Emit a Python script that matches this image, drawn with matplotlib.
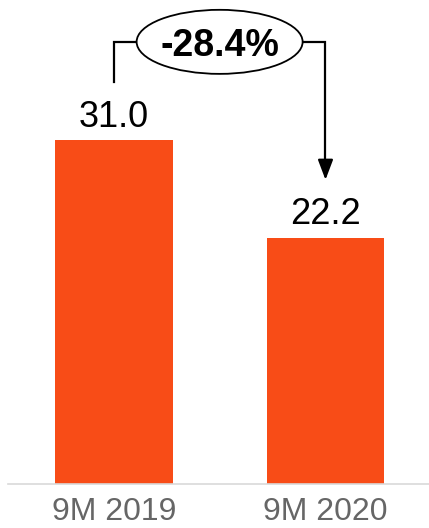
import matplotlib
matplotlib.use("Agg")
import matplotlib.pyplot as plt
from matplotlib.patches import Ellipse

categories = ["9M 2019", "9M 2020"]
values = [31.0, 22.2]
value_labels = ["31.0", "22.2"]
change_label = "-28.4%"

plt.rcParams['font.family'] = ['Liberation Sans', 'DejaVu Sans']

fig = plt.figure(figsize=(4.29, 5.28), dpi=100)
ax = fig.add_axes([8/429, 1 - 484/528, 1 - 8/429, 484/528])

x = list(range(len(categories)))
bar_color = "#F84C17"
ax.bar(x, values, width=0.555, color=bar_color, zorder=2)

ax.set_ylim(0, 43.6)
ax.set_xlim(-0.4994, 1.4888)

for xi, v, lab in zip(x, values, value_labels):
    ax.text(xi, v + 1.2, lab, ha="center", va="baseline", fontsize=26, color="black")

ax.set_xticks(x)
ax.set_xticklabels(categories, fontsize=23, color="#666666")
ax.tick_params(axis="x", length=0, pad=9.5)
ax.set_yticks([])
for s in ["top", "left", "right"]:
    ax.spines[s].set_visible(False)
ax.spines["bottom"].set_color("#d9d9d9")
ax.spines["bottom"].set_linewidth(1.2)

# change annotation
top_y = max(values) + 8.83
start_y = values[0] + 5.2
end_y = values[1] + 5.2
ex, ew, eh = 0.5, 0.784, 5.77
ax.plot([x[0], x[0], ex - ew / 2], [start_y, top_y, top_y], color="black", lw=1.6,
        solid_joinstyle="miter", zorder=3)
ax.plot([ex + ew / 2, x[1], x[1]], [top_y, top_y, end_y + 1.0], color="black", lw=1.6,
        solid_joinstyle="miter", zorder=3)
ax.annotate("", xy=(x[1], end_y), xytext=(x[1], end_y + 1.5),
            arrowprops=dict(arrowstyle="-|>,head_length=0.61,head_width=0.23",
                            mutation_scale=20, color="black", lw=1.6,
                            shrinkA=0, shrinkB=0), zorder=3)
ax.add_patch(Ellipse((ex, top_y), ew, eh, facecolor="white", edgecolor="black",
                     lw=1.3, zorder=4))
ax.text(ex, top_y, change_label, ha="center", va="center_baseline", fontsize=27,
        fontweight="bold", color="black", zorder=5)

fig.savefig("out.png", dpi=100)
